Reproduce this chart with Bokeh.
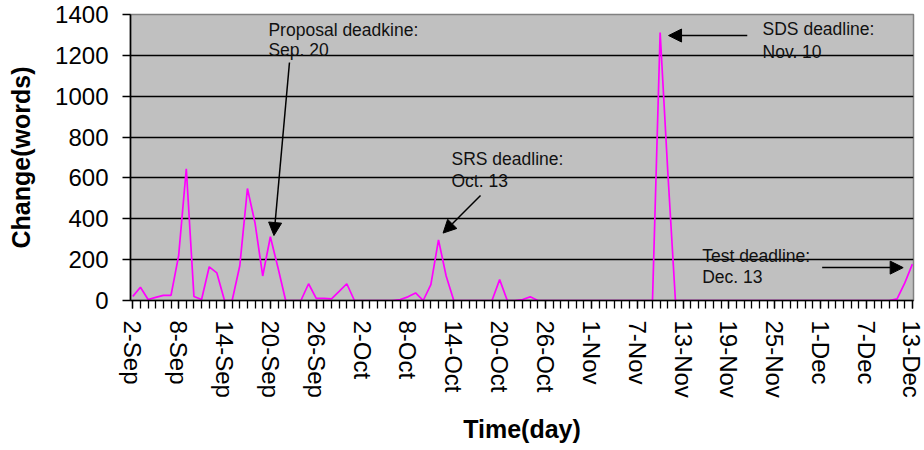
from bokeh.plotting import figure
from bokeh.models import Range1d, FixedTicker, Arrow, NormalHead, Label
from bokeh.embed import file_html
from bokeh.resources import INLINE

# Daily change in document size (words), one value per day from 2-Sep to 13-Dec
change_words = [
    20, 65, 5, 15, 25, 25, 220, 645, 20, 5,          # 2-Sep .. 11-Sep
    165, 135, 0, 0, 170, 548, 378, 120, 312, 160,    # 12-Sep .. 21-Sep
    0, 0, 0, 82, 10, 10, 8, 45, 82, 0,               # 22-Sep .. 1-Oct
    0, 0, 0, 0, 0, 5, 18, 37, 0, 78,                 # 2-Oct .. 11-Oct
    297, 120, 0, 0, 0, 0, 0, 0, 102, 0,              # 12-Oct .. 21-Oct
    0, 5, 18, 0, 0, 0, 0, 0, 0, 0,                   # 22-Oct .. 31-Oct
    0, 0, 0, 0, 0, 0, 0, 0, 0, 1312,                 # 1-Nov .. 10-Nov
    630, 0, 0, 0, 0, 0, 0, 0, 0, 0,                  # 11-Nov .. 20-Nov
    0, 0, 0, 0, 0, 0, 0, 0, 0, 0,                    # 21-Nov .. 30-Nov
    0, 0, 0, 0, 0, 0, 0, 0, 0, 0,                    # 1-Dec .. 10-Dec
    8, 85, 178,                                      # 11-Dec .. 13-Dec
]
day_index = list(range(len(change_words)))

tick_days = list(range(0, len(change_words), 6))
tick_labels = ["2-Sep", "8-Sep", "14-Sep", "20-Sep", "26-Sep", "2-Oct",
               "8-Oct", "14-Oct", "20-Oct", "26-Oct", "1-Nov", "7-Nov",
               "13-Nov", "19-Nov", "25-Nov", "1-Dec", "7-Dec", "13-Dec"]
y_ticks = [0, 200, 400, 600, 800, 1000, 1200, 1400]

FONT = "Liberation Sans"

p = figure(width=924, height=450, output_backend="svg", toolbar_location=None,
           x_range=Range1d(-0.3, 102.15), y_range=Range1d(0, 1400),
           min_border_left=130, min_border_right=11,
           min_border_top=14, min_border_bottom=150)
p.background_fill_color = "#C0C0C0"
p.border_fill_color = "white"
p.outline_line_color = "#808080"
p.outline_line_width = 1.5

p.line(day_index, change_words, line_color="#FF00FF", line_width=1.7)

# axes
p.xaxis.ticker = FixedTicker(ticks=tick_days, minor_ticks=day_index)
p.xaxis.major_label_overrides = {d: lab for d, lab in zip(tick_days, tick_labels)}
p.xaxis.major_label_orientation = "vertical"
p.yaxis.ticker = FixedTicker(ticks=y_ticks)

for ax in (p.xaxis[0], p.yaxis[0]):
    ax.axis_line_color = "black"
    ax.axis_line_width = 1.6
    ax.major_tick_line_color = "black"
    ax.major_tick_line_width = 1.3
    ax.major_tick_out = 8
    ax.major_tick_in = 0
    ax.major_label_text_font = FONT
    ax.major_label_text_font_size = "24px"
    ax.major_label_text_color = "black"
    ax.axis_label_text_font = FONT
    ax.axis_label_text_font_size = "25px"
    ax.axis_label_text_font_style = "bold"
    ax.axis_label_text_color = "black"

p.xaxis.minor_tick_line_color = "black"
p.xaxis.minor_tick_line_width = 1.3
p.xaxis.minor_tick_out = 8
p.xaxis.minor_tick_in = 0
p.yaxis.minor_tick_line_color = None

p.xaxis.major_label_standoff = 12
p.yaxis.major_label_standoff = 14
p.xaxis.axis_label = "Time(day)"
p.yaxis.axis_label = "Change(words)"
p.xaxis.axis_label_standoff = 14
p.yaxis.axis_label_standoff = 17

p.xgrid.visible = False
p.ygrid.grid_line_color = "black"
p.ygrid.grid_line_width = 1.5

# deadline notes
notes = [
    (17.75, 1326, "Proposal deadkine:"), (17.75, 1224, "Sep. 20"),
    (41.7, 695, "SRS deadline:"), (41.7, 587, "Oct. 13"),
    (82.4, 1331, "SDS deadline:"), (82.4, 1218, "Nov. 10"),
    (74.5, 220, "Test deadline:"), (74.5, 113, "Dec. 13"),
]
for x, y, t in notes:
    p.add_layout(Label(x=x, y=y, text=t, text_font=FONT, text_font_size="17.5px",
                       text_baseline="middle", text_align="left", text_color="#111111"))

arrows = [
    (20.5, 1165, 18.47, 318),
    (45.5, 514, 40.6, 330),
    (80.4, 1297, 70.1, 1297),
    (90.2, 161, 100.8, 161),
]
for xs, ys, xe, ye in arrows:
    p.add_layout(Arrow(end=NormalHead(size=13, fill_color="black", line_color="black"),
                       x_start=xs, y_start=ys, x_end=xe, y_end=ye,
                       line_color="black", line_width=1.5))

open("out.html", "w").write(file_html(p, INLINE))
